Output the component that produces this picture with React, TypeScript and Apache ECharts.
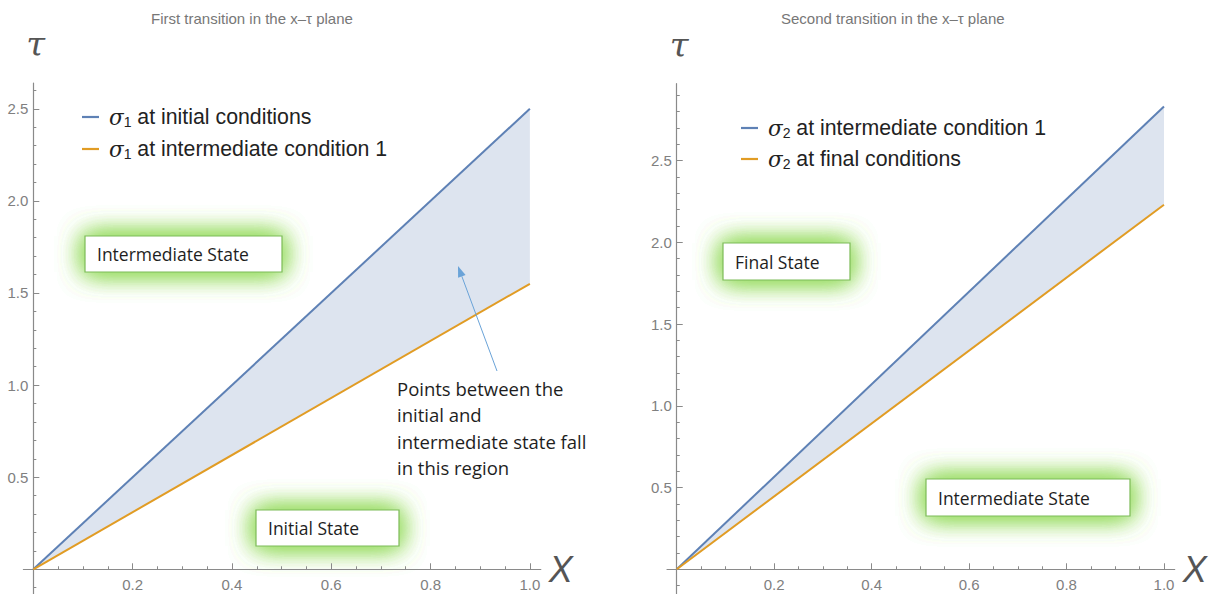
import React, { useEffect, useRef } from "react";
import * as echarts from "echarts";

// Boundary lines in the x–τ plane (straight lines through the origin)
const xs = [0, 1];
const firstUpper = [0, 2.5]; // σ1 at initial conditions
const firstLower = [0, 1.55]; // σ1 at intermediate condition 1
const secondUpper = [0, 2.83]; // σ2 at intermediate condition 1
const secondLower = [0, 2.23]; // σ2 at final conditions

const firstNames = ["σ1 at initial conditions", "σ1 at intermediate condition 1"];
const secondNames = ["σ2 at intermediate condition 1", "σ2 at final conditions"];
const titles = ["First transition in the x–τ plane", "Second transition in the x–τ plane"];

const xMajor = [0.2, 0.4, 0.6, 0.8, 1.0];
const xMinor = [0.05, 0.1, 0.15, 0.25, 0.3, 0.35, 0.45, 0.5, 0.55, 0.65, 0.7, 0.75, 0.85, 0.9, 0.95];
const yMajor = [0.5, 1.0, 1.5, 2.0, 2.5];
const yMinorFirst = [-0.1, 0.1, 0.2, 0.3, 0.4, 0.6, 0.7, 0.8, 0.9, 1.1, 1.2, 1.3, 1.4, 1.6, 1.7, 1.8, 1.9, 2.1, 2.2, 2.3, 2.4, 2.6];
const yMinorSecond = [...yMinorFirst, 2.7, 2.8, 2.9];

const BLUE = "#5e81b5";
const ORANGE = "#e19c24";
const FILL = "#dde4ef";
const AXIS = "#8a8a8a";
const LABEL = "#808080";

const grids = [
  { left: 23.4, top: 83, width: 517.4, height: 513.9, xMin: -0.02, xMax: 1.022, yMin: -0.15, yMax: 2.64 },
  { left: 667, top: 83.7, width: 507.7, height: 510.1, xMin: -0.02, xMax: 1.022, yMin: -0.15, yMax: 2.97 },
];

function richName(name: string) {
  const m = name.match(/^σ(\d) (.*)$/);
  if (!m) return name;
  return `{s|σ}{sub|${m[1]}}{t| ${m[2]}}`;
}

const tickLabel = {
  color: LABEL,
  fontSize: 15,
  fontFamily: "Liberation Sans",
  formatter: (v: number) => v.toFixed(1),
};

function buildAxes(gi: number, yMinor: number[]) {
  const g = grids[gi];
  // pixel distance between the grid edge and the zero line of the other axis
  const xZeroShift = ((0 - g.yMin) / (g.yMax - g.yMin)) * g.height;
  const yZeroShift = ((0 - g.xMin) / (g.xMax - g.xMin)) * g.width;
  const xBase = { type: "value", gridIndex: gi, min: g.xMin, max: g.xMax, position: "bottom", splitLine: { show: false } };
  const yBase = { type: "value", gridIndex: gi, min: g.yMin, max: g.yMax, position: "left", splitLine: { show: false } };

  const xLine = {
    ...xBase,
    name: "X",
    nameLocation: "end",
    nameGap: 8,
    nameTextStyle: { fontSize: 36, fontStyle: "italic", fontFamily: "Liberation Sans", color: "#555", verticalAlign: "middle" },
    axisLine: { show: true, onZero: true, lineStyle: { color: AXIS, width: 1.2 } },
    axisTick: { show: true, inside: true, length: 6, customValues: xMajor, lineStyle: { color: AXIS } },
    axisLabel: { show: false },
  };
  const xSub = {
    ...xBase,
    axisLine: { show: false, onZero: true },
    axisTick: { show: true, inside: true, length: 3, customValues: xMinor, lineStyle: { color: AXIS } },
    axisLabel: { show: false },
  };
  const xLabels = {
    ...xBase,
    offset: -xZeroShift,
    axisLine: { show: false, onZero: false },
    axisTick: { show: false },
    axisLabel: { show: true, customValues: xMajor, margin: 8, ...tickLabel },
  };
  const yLine = {
    ...yBase,
    name: "τ",
    nameLocation: "end",
    nameGap: 22,
    nameTextStyle: { fontSize: 34, fontStyle: "italic", fontFamily: "DejaVu Serif", color: "#555", align: "left", padding: [0, 0, 0, -7] },
    axisLine: { show: true, onZero: true, lineStyle: { color: AXIS, width: 1.2 } },
    axisTick: { show: true, inside: true, length: 6, customValues: yMajor, lineStyle: { color: AXIS } },
    axisLabel: { show: false },
  };
  const ySub = {
    ...yBase,
    axisLine: { show: false, onZero: true },
    axisTick: { show: true, inside: true, length: 3, customValues: yMinor, lineStyle: { color: AXIS } },
    axisLabel: { show: false },
  };
  const yLabels = {
    ...yBase,
    offset: -yZeroShift,
    axisLine: { show: false, onZero: false },
    axisTick: { show: false },
    axisLabel: { show: true, customValues: yMajor, margin: 5, ...tickLabel },
  };
  return { x: [xLine, xSub, xLabels], y: [yLine, ySub, yLabels] };
}

function bandSeries(axisIndex: number, upper: number[], lower: number[]) {
  return {
    type: "custom",
    xAxisIndex: axisIndex,
    yAxisIndex: axisIndex,
    silent: true,
    z: 1,
    data: [[0, 0]],
    renderItem: (_params: any, api: any) => {
      const pts: number[][] = [];
      xs.forEach((x, i) => pts.push(api.coord([x, upper[i]])));
      for (let i = xs.length - 1; i >= 0; i--) pts.push(api.coord([xs[i], lower[i]]));
      return { type: "polygon", shape: { points: pts }, style: { fill: FILL } };
    },
  };
}

function lineSeries(name: string, axisIndex: number, values: number[], color: string) {
  return {
    type: "line",
    name,
    xAxisIndex: axisIndex,
    yAxisIndex: axisIndex,
    data: xs.map((x, i) => [x, values[i]]),
    symbol: "none",
    color,
    lineStyle: { color, width: 2 },
    z: 3,
  };
}

function stateBox(x: number, y: number, w: number, h: number, text: string) {
  // soft green halo built from blurred white rectangles, then the framed label
  const halo = [0, 1, 2].map(() => ({
    type: "rect",
    shape: { x: 0, y: 0, width: w, height: h },
    style: { fill: "#fff", shadowBlur: 26, shadowColor: "rgba(150, 220, 95, 0.9)" },
  }));
  return {
    type: "group",
    x,
    y,
    z: 50,
    children: [
      ...halo,
      {
        type: "rect",
        shape: { x: 0, y: 0, width: w, height: h },
        style: { fill: "#fff", stroke: "#7dbb58", lineWidth: 1.2 },
      },
      {
        type: "text",
        x: 12,
        y: h / 2,
        style: { text, fontSize: 17.5, fontFamily: "Open Sans", fill: "#1e1e1e", verticalAlign: "middle" },
      },
    ],
  };
}

function arrow(x1: number, y1: number, x2: number, y2: number, color: string) {
  const dx = x2 - x1;
  const dy = y2 - y1;
  const len = Math.hypot(dx, dy);
  const ux = dx / len;
  const uy = dy / len;
  const head = 11;
  const half = 4;
  const bx = x2 - ux * head;
  const by = y2 - uy * head;
  return [
    { type: "line", z: 60, shape: { x1, y1, x2: bx, y2: by }, style: { stroke: color, lineWidth: 1 } },
    {
      type: "polygon",
      z: 60,
      shape: { points: [[x2, y2], [bx - uy * half, by + ux * half], [bx + uy * half, by - ux * half]] },
      style: { fill: color },
    },
  ];
}

const legendRich = {
  s: { fontSize: 21.5, fontStyle: "italic", fontFamily: "DejaVu Serif", color: "#222", padding: [0, 0, 0, 5] },
  sub: { fontSize: 14, fontFamily: "Liberation Sans", color: "#222", padding: [10, 0, 0, 0] },
  t: { fontSize: 21.3, fontFamily: "Liberation Sans", color: "#222" },
};

const titleStyle = { fontSize: 15, fontWeight: "normal", color: "#777", fontFamily: "Liberation Sans" };

export default function App() {
  const ref = useRef<HTMLDivElement>(null);

  useEffect(() => {
    document.body.style.margin = "0";
    if (!ref.current) return;
    const chart = echarts.init(ref.current, null, { renderer: "svg" });

    const a0 = buildAxes(0, yMinorFirst);
    const a1 = buildAxes(1, yMinorSecond);

    const legendBase = {
      orient: "vertical",
      icon: "rect",
      itemWidth: 17,
      itemHeight: 2.2,
      selectedMode: false,
      formatter: richName,
      textStyle: { rich: legendRich },
    };

    chart.setOption({
      animation: false,
      backgroundColor: "#fff",
      title: [
        { text: titles[0], left: 146, top: 6, textStyle: titleStyle },
        { text: titles[1], left: 776, top: 6, textStyle: titleStyle },
      ],
      legend: [
        { ...legendBase, data: firstNames, left: 77, top: 101, itemGap: 9 },
        { ...legendBase, data: secondNames, left: 736, top: 112, itemGap: 8 },
      ],
      grid: grids.map((g) => ({
        left: g.left,
        top: g.top,
        width: g.width,
        height: g.height,
        containLabel: false,
        outerBoundsMode: "none",
      })),
      xAxis: [...a0.x, ...a1.x],
      yAxis: [...a0.y, ...a1.y],
      series: [
        bandSeries(0, firstUpper, firstLower),
        lineSeries(firstNames[0], 0, firstUpper, BLUE),
        lineSeries(firstNames[1], 0, firstLower, ORANGE),
        bandSeries(3, secondUpper, secondLower),
        lineSeries(secondNames[0], 3, secondUpper, BLUE),
        lineSeries(secondNames[1], 3, secondLower, ORANGE),
      ],
      graphic: [
        stateBox(85, 236, 197, 36, "Intermediate State"),
        stateBox(256, 510, 143, 36, "Initial State"),
        stateBox(723, 243, 127, 37, "Final State"),
        stateBox(926, 479, 204, 37, "Intermediate State"),
        {
          type: "text",
          x: 397,
          y: 375,
          z: 60,
          style: {
            text: "Points between the\ninitial and\nintermediate state fall\nin this region",
            fontSize: 18.5,
            lineHeight: 26.5,
            fontFamily: "Open Sans",
            fill: "#1e1e1e",
          },
        },
        ...arrow(497, 371, 458, 266, "#6aa3d8"),
      ],
    });

    return () => chart.dispose();
  }, []);

  return <div ref={ref} style={{ width: 1214, height: 594 }} />;
}
